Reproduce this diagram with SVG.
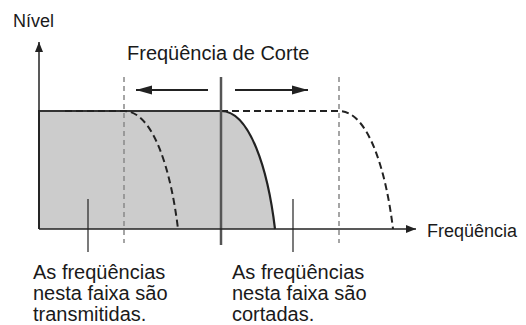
<svg xmlns="http://www.w3.org/2000/svg" width="526" height="325" viewBox="0 0 526 325">
<style>
text{font-family:"Liberation Sans",Arial,sans-serif;font-size:18px;fill:#1a1a1a}
.big{font-size:20px}
.ax{stroke:#222;stroke-width:1.5;fill:none}
.guide{stroke:#888;stroke-width:1.5;stroke-dasharray:5,4;fill:none}
.dash{stroke:#222;stroke-width:2;stroke-dasharray:7,4;fill:none}
.ptr{stroke:#222;stroke-width:1.2}
</style>
<defs>
<marker id="ah" viewBox="0 0 10 10" refX="10" refY="5" markerWidth="10" markerHeight="10" markerUnits="userSpaceOnUse" orient="auto"><path d="M0,1 L10,5 L0,9 Z" fill="#222"/></marker>
<marker id="ah2" viewBox="0 0 16 10" refX="16" refY="5" markerWidth="16" markerHeight="10" markerUnits="userSpaceOnUse" orient="auto"><path d="M0,0.5 L16,5 L0,9.5 Z" fill="#222"/></marker>
</defs>
<g id="passband">
<path d="M39,111 H221 C250,111 268,170 275,229 H39 Z" fill="#cccccc" stroke="none"/>
<path d="M39,229 V111 H221" fill="none" stroke="#333" stroke-width="2"/>
<path d="M221,111 C250,111 268,170 275,229" fill="none" stroke="#222" stroke-width="2.2"/>
</g>
<g id="curve-low">
<path class="dash" d="M65,111 H124 C153,111 171,170 178,229"/>
</g>
<g id="curve-high">
<path class="dash" d="M221,111 H339 C368,111 386,170 393,229"/>
</g>
<g id="guides">
<line class="guide" x1="124" y1="77" x2="124" y2="243"/>
<line class="guide" x1="339" y1="77" x2="339" y2="243"/>
</g>
<g id="cutoff">
<line x1="221" y1="77" x2="221" y2="245" stroke="#555" stroke-width="2.5"/>
</g>
<g id="axes">
<line class="ax" x1="39" y1="229" x2="39" y2="42" marker-end="url(#ah)"/>
<line class="ax" x1="39" y1="229" x2="416" y2="229" marker-end="url(#ah)"/>
</g>
<g id="connectors">
<line x1="208" y1="90" x2="136" y2="90" stroke="#222" stroke-width="2" marker-end="url(#ah2)"/>
<line x1="235" y1="90" x2="308" y2="90" stroke="#222" stroke-width="2" marker-end="url(#ah2)"/>
<line class="ptr" x1="88" y1="199" x2="88" y2="252"/>
<line class="ptr" x1="293" y1="199" x2="293" y2="252"/>
</g>
<g id="labels">
<text x="13" y="27">Nível</text>
<text class="big" x="127" y="60">Freqüência de Corte</text>
<text x="427" y="237">Freqüência</text>
<text class="big" x="33" y="279">As freqüências</text>
<text class="big" x="33" y="300">nesta faixa são</text>
<text class="big" x="33" y="321">transmitidas.</text>
<text class="big" x="232" y="279">As freqüências</text>
<text class="big" x="232" y="300">nesta faixa são</text>
<text class="big" x="232" y="321">cortadas.</text>
</g>
</svg>
